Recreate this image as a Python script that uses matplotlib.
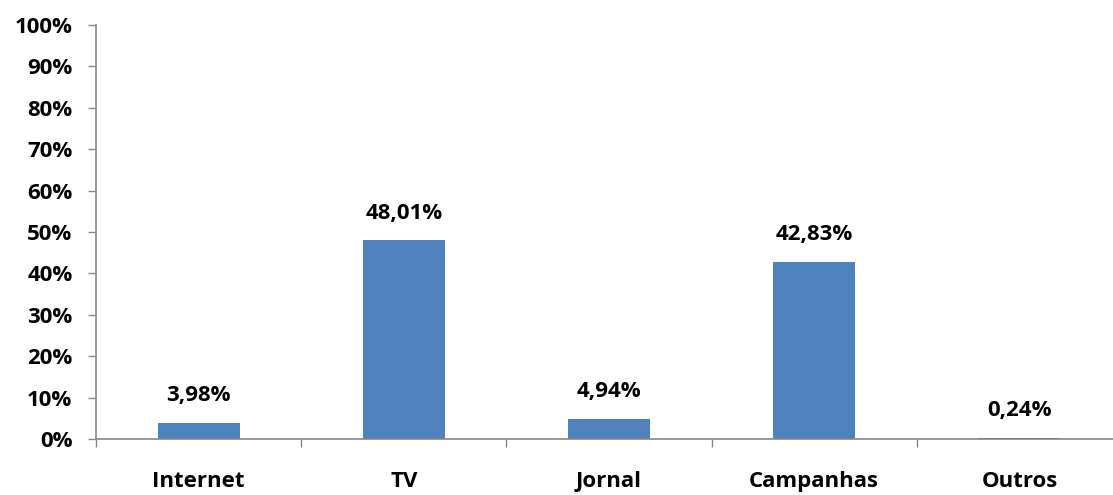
import matplotlib
matplotlib.use("Agg")
import matplotlib.pyplot as plt
from matplotlib.ticker import FixedLocator, FuncFormatter

categories = ["Internet", "TV", "Jornal", "Campanhas", "Outros"]
values = [3.98, 48.01, 4.94, 42.83, 0.24]
value_labels = ["3,98%", "48,01%", "4,94%", "42,83%", "0,24%"]
y_ticks = [0, 10, 20, 30, 40, 50, 60, 70, 80, 90, 100]

W, H = 1113, 495
fig = plt.figure(figsize=(W / 100, H / 100), dpi=100)
left, right, top, bottom = 96, 1122, 25, 439
ax = fig.add_axes([left / W, 1 - bottom / H, (right - left) / W, (bottom - top) / H])

FAMILY = ["Open Sans", "DejaVu Sans"]
SIZE = 16
font = dict(family=FAMILY, fontweight="bold", fontsize=SIZE, color="black")
axis_color = "#868686"

x = list(range(len(categories)))
ax.bar(x, values, width=0.4, color="#4F81BD", zorder=2)

for xi, v, lab in zip(x, values, value_labels):
    ax.annotate(lab, (xi, v), xytext=(0, 19.5), textcoords="offset points",
                ha="center", va="center", **font)

ax.set_xlim(-0.5, len(categories) - 0.5)
ax.set_ylim(0, 100)

ax.set_yticks(y_ticks)
ax.yaxis.set_major_formatter(FuncFormatter(lambda v, p: f"{int(v)}%"))
ax.tick_params(axis="y", direction="out", length=6, width=1, color=axis_color, pad=11)

ax.set_xticks(x)
ax.set_xticklabels(categories)
ax.xaxis.set_minor_locator(FixedLocator([i - 0.5 for i in range(len(categories) + 1)]))
ax.tick_params(axis="x", which="major", length=0, pad=23)
ax.tick_params(axis="x", which="minor", direction="out", length=6, width=1, color=axis_color)

for lbl in ax.get_xticklabels() + ax.get_yticklabels():
    lbl.set_fontfamily(FAMILY)
    lbl.set_fontweight("bold")
    lbl.set_fontsize(SIZE)

for s in ["top", "right"]:
    ax.spines[s].set_visible(False)
for s in ["left", "bottom"]:
    ax.spines[s].set_color(axis_color)
    ax.spines[s].set_linewidth(1.2)

fig.savefig("out.png", dpi=100)
